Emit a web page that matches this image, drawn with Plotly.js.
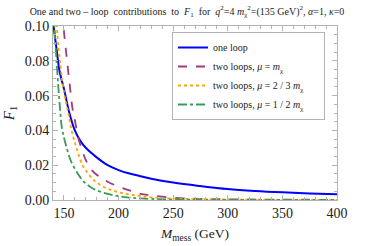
<!DOCTYPE html>
<html><head><meta charset="utf-8">
<script src="https://cdn.plot.ly/plotly-3.0.1.min.js"></script>
<style>html,body{margin:0;padding:0;background:#fff}#chart{width:374px;height:246px}</style>
</head><body><div id="chart"></div>
<script>
// Data
const mOneLoop = [140, 140.5, 143.7, 146, 150, 155, 160, 165, 170, 180, 190, 200, 210, 220, 230, 250, 275, 300, 325, 350, 375, 400];
const fOneLoop = [0.103, 0.100, 0.0845, 0.074, 0.064, 0.050, 0.040, 0.034, 0.030, 0.0245, 0.020, 0.0172, 0.0152, 0.0137, 0.0122, 0.0100, 0.0080, 0.0063, 0.0052, 0.0044, 0.0038, 0.0033];

const mMuFull = [148.5, 149.5, 152, 155, 158, 160, 163, 167, 170, 175, 180, 185, 190, 200, 210, 220, 230, 250, 275, 300, 350, 400];
const fMuFull = [0.108, 0.100, 0.085, 0.068, 0.052, 0.046, 0.036, 0.028, 0.023, 0.0175, 0.0145, 0.0125, 0.0105, 0.0077, 0.0055, 0.0035, 0.0027, 0.0013, 0.0007, 0.0004, 0.0002, 0.0001];

const mMuTwoThirds = [142.5, 143.4, 146, 150, 154, 157, 160, 163, 167, 170, 175, 180, 190, 200, 210, 220, 230, 250, 300, 350, 400];
const fMuTwoThirds = [0.108, 0.100, 0.082, 0.062, 0.050, 0.040, 0.033, 0.027, 0.020, 0.017, 0.013, 0.010, 0.0065, 0.0045, 0.0032, 0.0023, 0.0015, 0.0008, 0.0003, 0.0001, 0.00005];

const mMuHalf = [140.5, 141.2, 143, 145, 146.5, 148, 150, 152.5, 156, 160, 165, 170, 175, 180, 190, 200, 210, 220, 250, 300, 400];
const fMuHalf = [0.108, 0.100, 0.082, 0.064, 0.052, 0.042, 0.036, 0.030, 0.023, 0.018, 0.013, 0.0095, 0.0072, 0.0056, 0.0035, 0.0022, 0.0014, 0.0009, 0.0003, 0.0001, 0.00002];

const seriesNames = ["one loop", "two loops, <i>μ</i> = <i>m</i><sub>χ</sub>", "two loops, <i>μ</i> = 2 / 3 <i>m</i><sub>χ</sub>", "two loops, <i>μ</i> = 1 / 2 <i>m</i><sub>χ</sub>"];
const xTickVals = [150, 200, 250, 300, 350, 400];
const yTickVals = [0, 0.02, 0.04, 0.06, 0.08, 0.10];

const serif = "Liberation Serif, Times New Roman, serif";
const frame = "#b4b4b4";
const pad = "\u00a0\u00a0\u00a0\u00a0\u00a0\u00a0";

const traces = [
  {x: mOneLoop, y: fOneLoop, name: seriesNames[0], mode: "lines", line: {color: "#0000ff", width: 2, shape: "spline"}},
  {x: mMuFull, y: fMuFull, name: seriesNames[1], mode: "lines", line: {color: "#a03c7d", width: 1.8, dash: "dash", shape: "spline"}},
  {x: mMuTwoThirds, y: fMuTwoThirds, name: seriesNames[2] + pad, mode: "lines", line: {color: "#ffa500", width: 1.8, dash: "dot", shape: "spline"}},
  {x: mMuHalf, y: fMuHalf, name: seriesNames[3], mode: "lines", line: {color: "#3d9a55", width: 1.8, dash: "dashdot", shape: "spline"}}
];

const axisCommon = {
  showline: true, linecolor: frame, linewidth: 1, mirror: "ticks",
  ticks: "inside", ticklen: 5, tickcolor: frame, showgrid: false, zeroline: false,
  tickfont: {family: serif, size: 14, color: "#222"}
};

const layout = {
  width: 374, height: 246,
  margin: {l: 53, r: 37, t: 26, b: 46},
  paper_bgcolor: "#fff", plot_bgcolor: "#fff",
  title: {
    text: "One and two – loop  contributions  to  <i>F</i><sub>1</sub>  for  <i>q</i><sup>2</sup>=4 <i>m</i><sub>χ</sub><sup>2</sup>=(135 GeV)<sup>2</sup>, <i>α</i>=1, <i>κ</i>=0",
    font: {family: serif, size: 10, color: "#222"},
    x: 0.5, xref: "container", xanchor: "center",
    y: 0.955, yref: "container", yanchor: "middle"
  },
  xaxis: Object.assign({}, axisCommon, {
    range: [140, 400], tickvals: xTickVals,
    minor: {ticks: "inside", ticklen: 3, tickcolor: frame, dtick: 10},
    title: {text: "<i>M</i><sub>mess</sub> (GeV)", font: {family: serif, size: 13.5, color: "#222"}, standoff: 8}
  }),
  yaxis: Object.assign({}, axisCommon, {
    range: [0, 0.1], tickvals: yTickVals, tickformat: ".2f",
    minor: {ticks: "inside", ticklen: 3, tickcolor: frame, dtick: 0.005},
    title: {text: "<i>F</i><sub>1</sub>", font: {family: serif, size: 15, color: "#222"}, standoff: 6}
  }),
  showlegend: true,
  legend: {
    x: 0.419, xanchor: "left", y: 0.9655, yanchor: "top",
    bgcolor: "#fff", bordercolor: frame, borderwidth: 1,
    font: {family: serif, size: 10, color: "#222"},
    tracegroupgap: 0
  }
};

Plotly.newPlot("chart", traces, layout, {displayModeBar: false, staticPlot: true});
</script></body></html>
